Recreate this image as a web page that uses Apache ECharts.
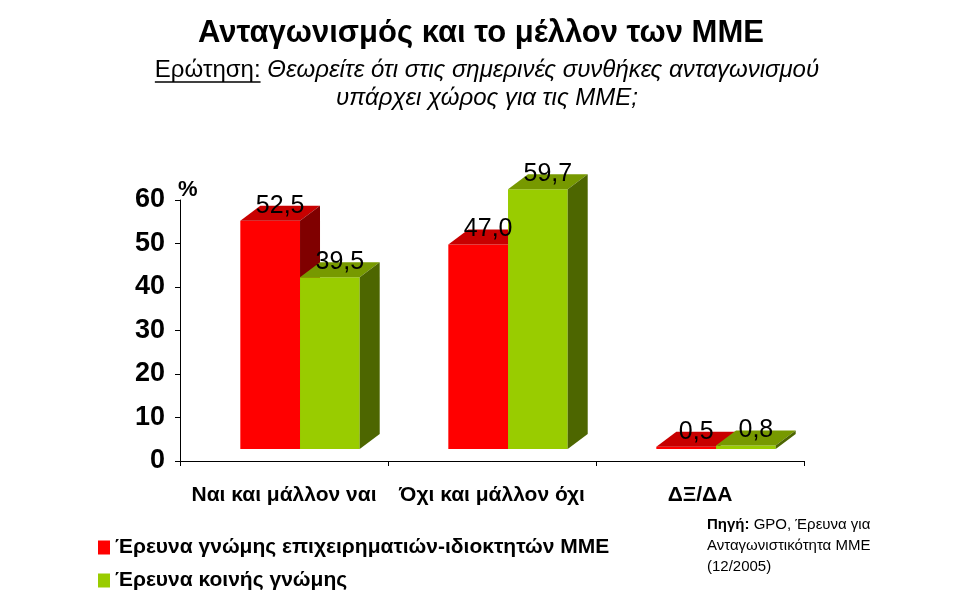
<!DOCTYPE html>
<html>
<head>
<meta charset="utf-8">
<script src="https://cdn.jsdelivr.net/npm/echarts@6/dist/echarts.min.js"></script>
<style>
html,body{margin:0;padding:0;background:#fff}
#main{width:977px;height:600px}
</style>
</head>
<body>
<div id="main"></div>
<script>
var categories = ['Ναι και μάλλον ναι', 'Όχι και μάλλον όχι', 'ΔΞ/ΔΑ'];
var seriesNames = ['Έρευνα γνώμης επιχειρηματιών-ιδιοκτητών ΜΜΕ', 'Έρευνα κοινής γνώμης'];
var ownersValues = [52.5, 47.0, 0.5];
var publicValues = [39.5, 59.7, 0.8];
var yMin = 0, yMax = 60, yStep = 10;

var titleText = 'Ανταγωνισμός και το μέλλον των ΜΜΕ';
var questionLabel = 'Ερώτηση:';
var questionLine1 = 'Θεωρείτε ότι στις σημερινές συνθήκες ανταγωνισμού';
var questionLine2 = 'υπάρχει χώρος για τις ΜΜΕ;';
var sourceLabel = 'Πηγή:';
var sourceLines = [' GPO, Έρευνα για', 'Ανταγωνιστικότητα ΜΜΕ', '(12/2005)'];

var FONT = '"Liberation Sans", Arial, sans-serif';
var chart = echarts.init(document.getElementById('main'));

// colours: front, top, side
var faces = [
    ['#ff0000', '#c80000', '#800000'],
    ['#99cc00', '#779900', '#4d6600']
];

function fmt(v) { return v.toFixed(1).replace('.', ','); }

function bar3d(k) {
    return function (params, api) {
        var i = api.value(0), v = api.value(1);
        var base = api.coord([i, 0]);
        var top = api.coord([i, v]);
        var band = api.size([1, 0])[0];
        var w = band * 0.287;
        var x0 = base[0] - band * 0.21 + k * w;
        var lift = 12, dx = 20, dy = 15;
        var y0 = base[1] - lift, y1 = top[1] - lift;
        var c = faces[k];
        return {
            type: 'group',
            children: [
                { type: 'rect', shape: { x: x0, y: y1, width: w, height: y0 - y1 }, style: { fill: c[0] } },
                { type: 'polygon', shape: { points: [[x0, y1], [x0 + w, y1], [x0 + w + dx, y1 - dy], [x0 + dx, y1 - dy]] }, style: { fill: c[1] } },
                { type: 'polygon', shape: { points: [[x0 + w, y1], [x0 + w + dx, y1 - dy], [x0 + w + dx, y0 - dy], [x0 + w, y0]] }, style: { fill: c[2] } },
                { type: 'text', z2: 100, x: x0 + w / 2 + dx / 2, y: y1 - dy,
                  style: { text: fmt(v), font: '25px ' + FONT, fill: '#000', align: 'center', verticalAlign: 'middle' } }
            ]
        };
    };
}

// subtitle widths, so the underline under "Ερώτηση:" sits right
var SUB = 24;
var ctx = document.createElement('canvas').getContext('2d');
ctx.font = SUB + 'px ' + FONT;
var wLabel = ctx.measureText(questionLabel).width;
var wSpace = ctx.measureText(' ').width;
ctx.font = 'italic ' + SUB + 'px ' + FONT;
var wRest = ctx.measureText(questionLine1).width;
var subX = 487 - (wLabel + wSpace + wRest) / 2;

var option = {
    animation: false,
    grid: { left: 180, right: 173, top: 200, bottom: 139 },
    legend: {
        orient: 'vertical', left: 93, top: 532, itemGap: 12,
        icon: 'rect', itemWidth: 12, itemHeight: 14,
        selectedMode: false,
        textStyle: { fontFamily: FONT, fontWeight: 'bold', fontSize: 21, color: '#000' },
        data: seriesNames
    },
    xAxis: {
        type: 'category',
        data: categories,
        axisLine: { lineStyle: { color: '#000', width: 1 } },
        axisTick: { show: true, length: 5, lineStyle: { color: '#000' } },
        axisLabel: { interval: 0, margin: 24, color: '#000', fontFamily: FONT, fontWeight: 'bold', fontSize: 21 }
    },
    yAxis: {
        type: 'value', min: yMin, max: yMax, interval: yStep,
        axisLine: { show: true, lineStyle: { color: '#000', width: 1 } },
        axisTick: { show: true, length: 5, lineStyle: { color: '#000' } },
        splitLine: { show: false },
        axisLabel: { margin: 15, color: '#000', fontFamily: FONT, fontWeight: 'bold', fontSize: 27 }
    },
    graphic: [
        { type: 'text', x: 481, y: 33, style: { text: titleText, font: 'bold 31px ' + FONT, fill: '#000', align: 'center', verticalAlign: 'middle' } },
        { type: 'text', x: subX, y: 70, style: { text: questionLabel, font: SUB + 'px ' + FONT, fill: '#000', align: 'left', verticalAlign: 'middle' } },
        { type: 'line', shape: { x1: subX, y1: 82, x2: subX + wLabel, y2: 82 }, style: { stroke: '#000', lineWidth: 1.5 } },
        { type: 'text', x: subX + wLabel + wSpace, y: 70, style: { text: questionLine1, font: 'italic ' + SUB + 'px ' + FONT, fill: '#000', align: 'left', verticalAlign: 'middle' } },
        { type: 'text', x: 487, y: 98, style: { text: questionLine2, font: 'italic ' + SUB + 'px ' + FONT, fill: '#000', align: 'center', verticalAlign: 'middle' } },
        { type: 'text', x: 178, y: 190, style: { text: '%', font: 'bold 22px ' + FONT, fill: '#000', align: 'left', verticalAlign: 'middle' } },
        { type: 'text', x: 707, y: 514, style: {
            text: '{b|' + sourceLabel + '}' + sourceLines[0] + '\n' + sourceLines[1] + '\n' + sourceLines[2],
            font: '15px ' + FONT, fill: '#000', lineHeight: 21, align: 'left', verticalAlign: 'top',
            rich: { b: { fontWeight: 'bold', fontSize: 15, fontFamily: FONT } }
          } }
    ],
    series: [
        {
            name: seriesNames[0], type: 'custom', renderItem: bar3d(0),
            itemStyle: { color: faces[0][0] },
            data: ownersValues.map(function (v, i) { return [i, v]; })
        },
        {
            name: seriesNames[1], type: 'custom', renderItem: bar3d(1),
            itemStyle: { color: faces[1][0] },
            data: publicValues.map(function (v, i) { return [i, v]; })
        }
    ]
};
chart.setOption(option);
</script>
</body>
</html>
